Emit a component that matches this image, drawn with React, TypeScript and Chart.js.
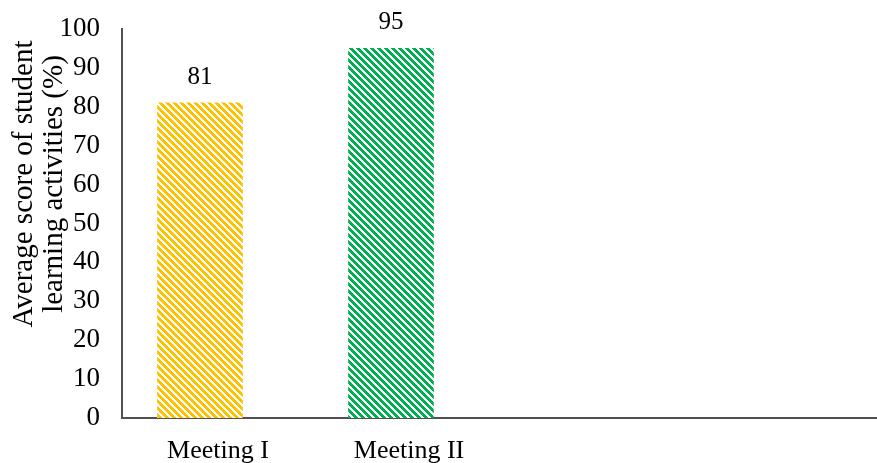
import React, { useEffect, useRef } from "react";
import { Chart, registerables } from "chart.js";

Chart.register(...registerables);

const categories = ["Meeting I", "Meeting II"];
const positions = [0, 1];
const values = [81, 95];
const barColors = ["#FFC000", "#00B050"];
const yTitleLines = ["Average score of student", "learning activities (%)"];
const yMin = 0;
const yMax = 100;
const yStep = 10;

const FONT = "'Liberation Serif', 'Times New Roman', serif";

function makeHatch(color: string): CanvasPattern | string {
  const size = 7;
  const c = document.createElement("canvas");
  c.width = size;
  c.height = size;
  const ctx = c.getContext("2d");
  if (!ctx) return color;
  ctx.fillStyle = "#ffffff";
  ctx.fillRect(0, 0, size, size);
  ctx.fillStyle = color;
  for (let y = 0; y < size; y++) {
    for (let x = 0; x < size; x++) {
      const d = (((x - y) % size) + size) % size;
      if (d < 4) ctx.fillRect(x, y, 1, 1);
    }
  }
  const p = ctx.createPattern(c, "repeat");
  return p || color;
}

const valueLabelPlugin = {
  id: "valueLabels",
  afterDatasetsDraw(chart: any) {
    const ctx = chart.ctx;
    const meta = chart.getDatasetMeta(0);
    ctx.save();
    ctx.font = `25px ${FONT}`;
    ctx.fillStyle = "#000000";
    ctx.textAlign = "center";
    ctx.textBaseline = "alphabetic";
    meta.data.forEach((bar: any, i: number) => {
      ctx.fillText(String(values[i]), bar.x, bar.y - 19);
    });
    ctx.restore();
  },
};

const yTitlePlugin = {
  id: "yTitle",
  afterDraw(chart: any) {
    const ctx = chart.ctx;
    ctx.save();
    ctx.font = `29px ${FONT}`;
    ctx.fillStyle = "#000000";
    ctx.textAlign = "center";
    ctx.textBaseline = "alphabetic";
    const cy = 184;
    const xs = [32, 62];
    yTitleLines.forEach((line, i) => {
      ctx.save();
      ctx.translate(xs[i], cy);
      ctx.rotate(-Math.PI / 2);
      ctx.fillText(line, 0, 0);
      ctx.restore();
    });
    ctx.restore();
  },
};

export default function App() {
  const ref = useRef<HTMLCanvasElement | null>(null);

  useEffect(() => {
    document.body.style.margin = "0";
    const canvas = ref.current;
    if (!canvas) return;
    const chart = new Chart(canvas, {
      type: "bar",
      data: {
        datasets: [
          {
            data: positions.map((x, i) => ({ x, y: values[i] })),
            backgroundColor: barColors.map((c) => makeHatch(c)) as any,
            borderWidth: 0,
            barThickness: 85,
          },
        ],
      },
      options: {
        animation: false,
        responsive: false,
        devicePixelRatio: 1,
        layout: { padding: { top: 29, left: 0, right: 0, bottom: 0 } },
        plugins: {
          legend: { display: false },
          tooltip: { enabled: false },
        },
        scales: {
          x: {
            type: "linear",
            min: -78 / 191,
            max: 677 / 191,
            bounds: "data",
            offset: false,
            grid: { display: false, drawTicks: false, offset: false },
            border: { display: true, color: "#505050", width: 2 },
            afterBuildTicks: (scale: any) => {
              scale.ticks = positions.map((v) => ({ value: v }));
            },
            afterFit: (scale: any) => {
              scale.height = 45;
              scale.paddingLeft = 0;
              scale.paddingRight = 0;
            },
            ticks: {
              autoSkip: false,
              maxRotation: 0,
              labelOffset: 18,
              padding: 18,
              color: "#000000",
              font: { family: FONT, size: 26 },
              callback: (v: any) => categories[positions.indexOf(Number(v))] ?? "",
            },
          },
          y: {
            min: yMin,
            max: yMax,
            grid: { display: false, drawTicks: false },
            border: { display: true, color: "#505050", width: 2 },
            afterFit: (scale: any) => {
              scale.width = 122;
              scale.paddingTop = 0;
              scale.paddingBottom = 0;
            },
            ticks: {
              stepSize: yStep,
              padding: 22,
              color: "#000000",
              font: { family: FONT, size: 27 },
            },
          },
        },
      },
      plugins: [valueLabelPlugin, yTitlePlugin],
    });
    return () => chart.destroy();
  }, []);

  return (
    <div style={{ width: 877, height: 463, background: "#ffffff" }}>
      <canvas ref={ref} width={877} height={463} style={{ display: "block" }} />
    </div>
  );
}
